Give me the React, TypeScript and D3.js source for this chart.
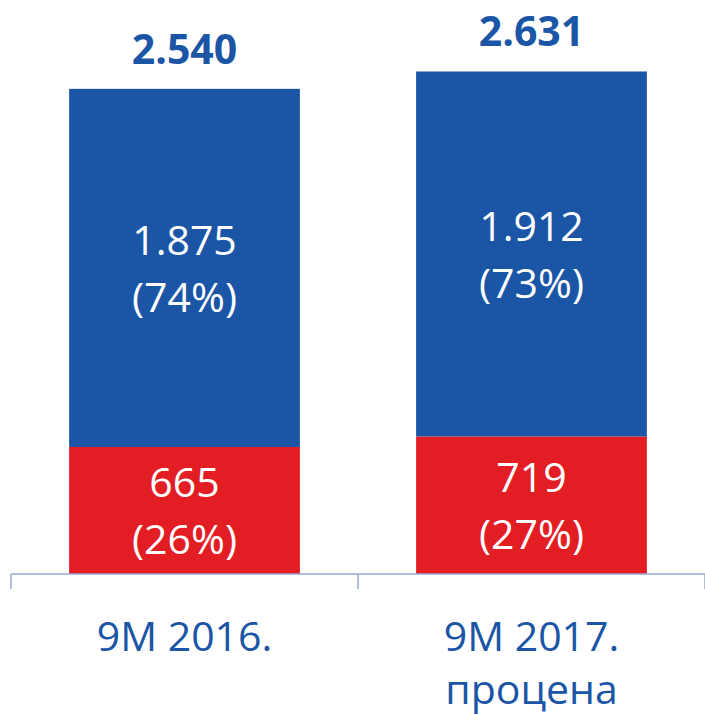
import React from 'react';
import { scaleBand, scaleLinear } from 'd3';

const categories = [['9M 2016.'], ['9M 2017.', 'процена']];
const redValues = [665, 719];
const blueValues = [1875, 1912];
const redPct = ['(26%)', '(27%)'];
const bluePct = ['(74%)', '(73%)'];
const totals = ['2.540', '2.631'];
const blueLabels = ['1.875', '1.912'];

const W = 705;
const H = 715;
const baseY = 574;
const BLUE = '#1A55A6';
const RED = '#E31D24';
const AXIS = '#9AA8CF';
const FONT = "'Open Sans', sans-serif";
const FS = 41;

export default function App() {
  const x = scaleBand<number>()
    .domain([0, 1])
    .range([11, W])
    .paddingInner(0.335)
    .paddingOuter(0.1675);
  const y = scaleLinear().domain([0, 3000]).range([baseY, 1]);
  const bw = x.bandwidth();
  const step = x.step();
  const axisStart = 11;
  const ticks = [0, 1, 2].map((i) => axisStart + i * step);

  return (
    <div style={{ position: 'absolute', left: 0, top: 0 }}>
      <svg width={W} height={H} style={{ display: 'block' }} fontFamily={FONT}>
        {[0, 1].map((i) => {
          const x0 = x(i) as number;
          const cx = x0 + bw / 2;
          const red = redValues[i];
          const blue = blueValues[i];
          const yRed = y(red);
          const yTop = y(red + blue);
          const redMid = (yRed + baseY) / 2;
          const blueMid = (yTop + yRed) / 2;
          return (
            <g key={i}>
              <rect x={x0} y={yTop} width={bw} height={yRed - yTop} fill={BLUE} />
              <rect x={x0} y={yRed} width={bw} height={baseY - yRed} fill={RED} />
              <text x={cx} y={blueMid - 13} textAnchor="middle" fill="#fff" fontSize={FS}>
                {blueLabels[i]}
              </text>
              <text x={cx} y={blueMid + 44} textAnchor="middle" fill="#fff" fontSize={FS}>
                {bluePct[i]}
              </text>
              <text x={cx} y={redMid - 13} textAnchor="middle" fill="#fff" fontSize={FS}>
                {red}
              </text>
              <text x={cx} y={redMid + 44} textAnchor="middle" fill="#fff" fontSize={FS}>
                {redPct[i]}
              </text>
              <text x={cx} y={yTop - 25} textAnchor="middle" fill={BLUE} fontSize={FS} fontWeight="bold">
                {totals[i]}
              </text>
              {categories[i].map((line, j) => (
                <text key={j} x={cx} y={651 + j * 53} textAnchor="middle" fill={BLUE} fontSize={FS}>
                  {line}
                </text>
              ))}
            </g>
          );
        })}
        <line x1={axisStart} x2={W} y1={baseY} y2={baseY} stroke={AXIS} strokeWidth={1.5} />
        {ticks.map((t, i) => (
          <line key={i} x1={t} x2={t} y1={baseY} y2={baseY + 15} stroke={AXIS} strokeWidth={1.5} />
        ))}
      </svg>
    </div>
  );
}
